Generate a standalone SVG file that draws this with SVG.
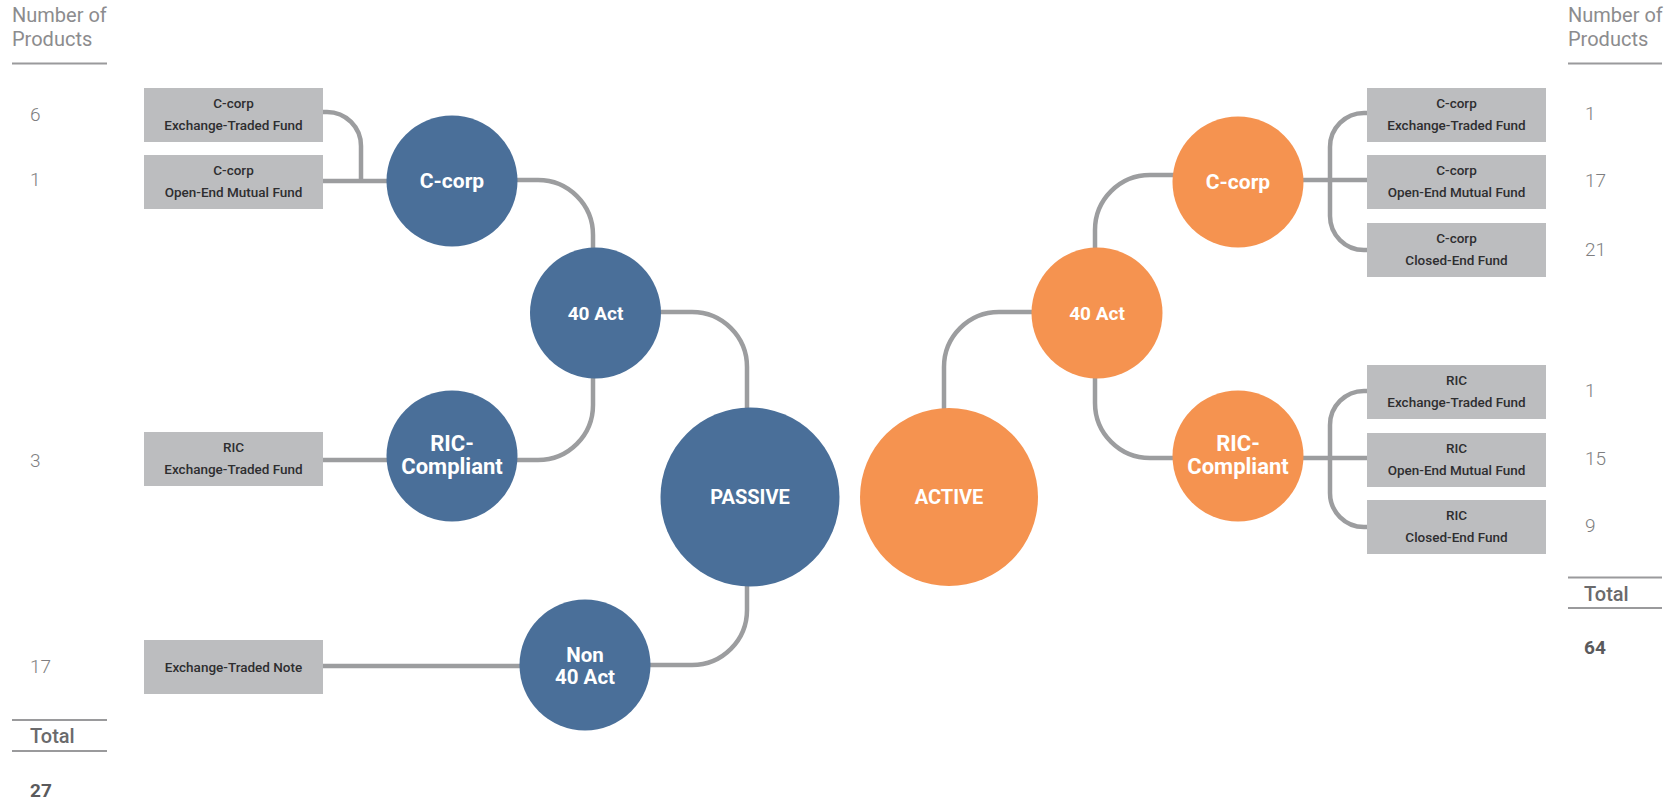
<svg xmlns="http://www.w3.org/2000/svg" width="1677" height="802" viewBox="0 0 1677 802">
<style>
.hdr{font-family:Roboto,"Liberation Sans",sans-serif;font-weight:400;font-size:20px;fill:#8c8c8e}
.num{font-family:Roboto,"Liberation Sans",sans-serif;font-weight:300;font-size:19px;fill:#7e7e80}
.tot{font-family:Roboto,"Liberation Sans",sans-serif;font-weight:500;font-size:20px;fill:#6a6a6c}
.totn{font-family:Roboto,"Liberation Sans",sans-serif;font-weight:700;font-size:19px;fill:#5a5a5c}
.rule{stroke:#9a9a9c;stroke-width:2;fill:none}
.box{fill:#bcbdbf}
.bt{font-family:Roboto,"Liberation Sans",sans-serif;font-weight:500;font-size:13.5px;fill:#2e2e30;text-anchor:middle}
.blue{fill:#4a6f99}
.orange{fill:#f59350}
.ct{font-family:Roboto,"Liberation Sans",sans-serif;font-weight:700;fill:#ffffff;text-anchor:middle}
.conn{stroke:#9c9d9f;stroke-width:4.5;fill:none}
</style>

<g id="header-left">
<text class="hdr" x="12" y="22">Number of</text>
<text class="hdr" x="12" y="46">Products</text>
<line class="rule" x1="12" y1="63.5" x2="107" y2="63.5"/>
<text class="num" x="30" y="121">6</text>
<text class="num" x="30" y="186">1</text>
<text class="num" x="30" y="467">3</text>
<text class="num" x="30" y="673">17</text>
<line class="rule" x1="12" y1="720" x2="107" y2="720"/>
<text class="tot" x="30" y="743">Total</text>
<line class="rule" x1="12" y1="751" x2="107" y2="751"/>
<text class="totn" x="30" y="797">27</text>
</g>

<g id="header-right">
<text class="hdr" x="1568" y="22">Number of</text>
<text class="hdr" x="1568" y="46">Products</text>
<line class="rule" x1="1568" y1="63.5" x2="1662" y2="63.5"/>
<text class="num" x="1585" y="120">1</text>
<text class="num" x="1585" y="187">17</text>
<text class="num" x="1585" y="256">21</text>
<text class="num" x="1585" y="397">1</text>
<text class="num" x="1585" y="465">15</text>
<text class="num" x="1585" y="532">9</text>
<line class="rule" x1="1568" y1="577.5" x2="1662" y2="577.5"/>
<text class="tot" x="1584" y="601">Total</text>
<line class="rule" x1="1568" y1="608" x2="1662" y2="608"/>
<text class="totn" x="1584" y="654">64</text>
</g>

<g id="connectors">
<path class="conn" d="M323 112 H327 A34 34 0 0 1 361 146 V181"/>
<path class="conn" d="M323 181 H388"/>
<path class="conn" d="M517 180 H538 A55 55 0 0 1 593 235 V249"/>
<path class="conn" d="M593 378 V405 A55 55 0 0 1 538 460 H517"/>
<path class="conn" d="M323 460 H388"/>
<path class="conn" d="M660 312 H692 A55 55 0 0 1 747 367 V409"/>
<path class="conn" d="M747 585 V610 A55 55 0 0 1 692 665 H649"/>
<path class="conn" d="M323 666 H521"/>
<path class="conn" d="M944 409 V367 A55 55 0 0 1 999 312 H1033"/>
<path class="conn" d="M1095 249 V230 A55 55 0 0 1 1150 175 H1174"/>
<path class="conn" d="M1095 377 V403 A55 55 0 0 0 1150 458 H1174"/>
<path class="conn" d="M1302 180 H1368"/>
<path class="conn" d="M1368 113 H1364 A34 34 0 0 0 1330 147 V216 A34 34 0 0 0 1364 250 H1368"/>
<path class="conn" d="M1302 458 H1368"/>
<path class="conn" d="M1368 391 H1364 A34 34 0 0 0 1330 425 V493 A34 34 0 0 0 1364 527 H1368"/>
</g>

<g id="box-l1"><rect class="box" x="144" y="88" width="179" height="54"/>
<text class="bt" x="233.5" y="108">C-corp</text><text class="bt" x="233.5" y="130">Exchange-Traded Fund</text></g>
<g id="box-l2"><rect class="box" x="144" y="155" width="179" height="54"/>
<text class="bt" x="233.5" y="175">C-corp</text><text class="bt" x="233.5" y="197">Open-End Mutual Fund</text></g>
<g id="box-l3"><rect class="box" x="144" y="432" width="179" height="54"/>
<text class="bt" x="233.5" y="452">RIC</text><text class="bt" x="233.5" y="474">Exchange-Traded Fund</text></g>
<g id="box-l4"><rect class="box" x="144" y="640" width="179" height="54"/>
<text class="bt" x="233.5" y="672">Exchange-Traded Note</text></g>

<g id="box-r1"><rect class="box" x="1367" y="88" width="179" height="54"/>
<text class="bt" x="1456.5" y="108">C-corp</text><text class="bt" x="1456.5" y="130">Exchange-Traded Fund</text></g>
<g id="box-r2"><rect class="box" x="1367" y="155" width="179" height="54"/>
<text class="bt" x="1456.5" y="175">C-corp</text><text class="bt" x="1456.5" y="197">Open-End Mutual Fund</text></g>
<g id="box-r3"><rect class="box" x="1367" y="223" width="179" height="54"/>
<text class="bt" x="1456.5" y="243">C-corp</text><text class="bt" x="1456.5" y="265">Closed-End Fund</text></g>
<g id="box-r4"><rect class="box" x="1367" y="365" width="179" height="54"/>
<text class="bt" x="1456.5" y="385">RIC</text><text class="bt" x="1456.5" y="407">Exchange-Traded Fund</text></g>
<g id="box-r5"><rect class="box" x="1367" y="433" width="179" height="54"/>
<text class="bt" x="1456.5" y="453">RIC</text><text class="bt" x="1456.5" y="475">Open-End Mutual Fund</text></g>
<g id="box-r6"><rect class="box" x="1367" y="500" width="179" height="54"/>
<text class="bt" x="1456.5" y="520">RIC</text><text class="bt" x="1456.5" y="542">Closed-End Fund</text></g>

<g id="node-ccorp-blue"><circle class="blue" cx="452" cy="181" r="65.5"/>
<text class="ct" x="452" y="188" font-size="21">C-corp</text></g>
<g id="node-40act-blue"><circle class="blue" cx="595.5" cy="313" r="65.5"/>
<text class="ct" x="595.5" y="320" font-size="19">40 Act</text></g>
<g id="node-ric-blue"><circle class="blue" cx="452" cy="456" r="65.5"/>
<text class="ct" x="452" y="451" font-size="22">RIC-</text><text class="ct" x="452" y="474" font-size="22">Compliant</text></g>
<g id="node-passive"><circle class="blue" cx="750" cy="497" r="89.5"/>
<text class="ct" x="750" y="504" font-size="20">PASSIVE</text></g>
<g id="node-non40"><circle class="blue" cx="585" cy="665" r="65.5"/>
<text class="ct" x="585" y="662" font-size="20.5">Non</text><text class="ct" x="585" y="684" font-size="20.5">40 Act</text></g>
<g id="node-active"><circle class="orange" cx="949" cy="497" r="89"/>
<text class="ct" x="949" y="504" font-size="20">ACTIVE</text></g>
<g id="node-40act-orange"><circle class="orange" cx="1097" cy="313" r="65.5"/>
<text class="ct" x="1097" y="320" font-size="19">40 Act</text></g>
<g id="node-ccorp-orange"><circle class="orange" cx="1238" cy="182" r="65.5"/>
<text class="ct" x="1238" y="189" font-size="21">C-corp</text></g>
<g id="node-ric-orange"><circle class="orange" cx="1238" cy="456" r="65.5"/>
<text class="ct" x="1238" y="451" font-size="22">RIC-</text><text class="ct" x="1238" y="474" font-size="22">Compliant</text></g>
</svg>
